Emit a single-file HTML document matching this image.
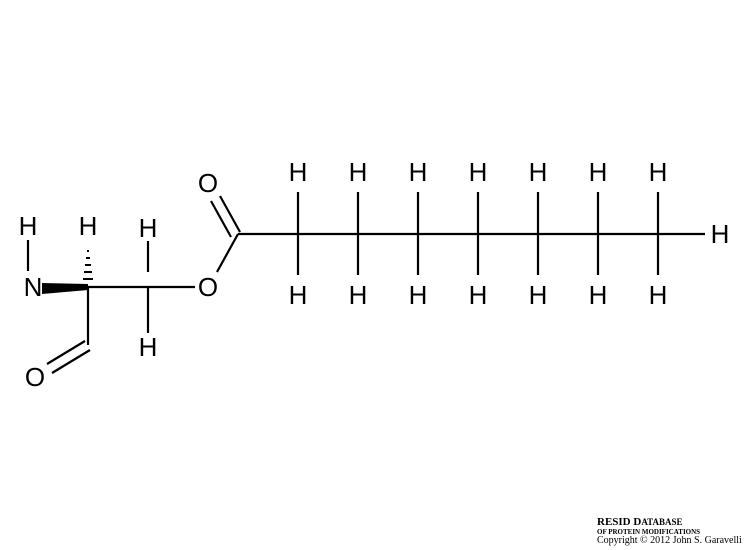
<!DOCTYPE html>
<html><head><meta charset="utf-8"><style>
html,body{margin:0;padding:0;background:#fff;}
svg{display:block;}
text{font-family:"Liberation Sans",sans-serif;font-size:26px;fill:#000;text-anchor:middle;dominant-baseline:central;}
.s{font-family:"Liberation Serif",serif;text-anchor:start;dominant-baseline:auto;}
</style></head><body>
<svg width="750" height="550" viewBox="0 0 750 550">
<g stroke="#000" stroke-width="2.2" fill="none">
<line x1="28" y1="240" x2="28" y2="271"/>
<line x1="88" y1="287" x2="195" y2="287"/>
<line x1="148" y1="241" x2="148" y2="272"/>
<line x1="148" y1="287" x2="148" y2="333"/>
<line x1="88" y1="287" x2="88" y2="345"/>
<line x1="90" y1="350" x2="52" y2="373"/>
<line x1="85" y1="341" x2="47" y2="364"/>
<line x1="217" y1="272" x2="238" y2="234"/>
<line x1="240" y1="232" x2="220" y2="196"/>
<line x1="231" y1="237" x2="211" y2="201"/>
<line x1="238" y1="234" x2="705" y2="234"/>
<line x1="298" y1="192" x2="298" y2="275"/>
<line x1="358" y1="192" x2="358" y2="275"/>
<line x1="418" y1="192" x2="418" y2="275"/>
<line x1="478" y1="192" x2="478" y2="275"/>
<line x1="538" y1="192" x2="538" y2="275"/>
<line x1="598" y1="192" x2="598" y2="275"/>
<line x1="658" y1="192" x2="658" y2="275"/>
</g>
<polygon points="42,283 88,284 88,290 42,294" fill="#000"/>
<g stroke="#000" stroke-width="2">
<line x1="87" y1="251" x2="89" y2="251"/><line x1="86" y1="258" x2="90" y2="258"/>
<line x1="85" y1="265" x2="91" y2="265"/><line x1="84" y1="272" x2="92" y2="272"/>
<line x1="83" y1="279" x2="93" y2="279"/>
</g>
<g>
<text x="28" y="226">H</text><text x="33" y="287">N</text>
<text x="88" y="226">H</text><text x="148" y="228">H</text><text x="148" y="347">H</text>
<text x="35" y="377">O</text><text x="208" y="287">O</text><text x="208" y="183">O</text>
<text x="298" y="172">H</text><text x="358" y="172">H</text><text x="418" y="172">H</text><text x="478" y="172">H</text><text x="538" y="172">H</text><text x="598" y="172">H</text><text x="658" y="172">H</text>
<text x="298" y="295">H</text><text x="358" y="295">H</text><text x="418" y="295">H</text><text x="478" y="295">H</text><text x="538" y="295">H</text><text x="598" y="295">H</text><text x="658" y="295">H</text>
<text x="720" y="234">H</text>
</g>
<g>
<text class="s" x="597" y="525" style="font-size:11px;font-weight:bold">RESID D<tspan style="font-size:9px">ATABASE</tspan></text>
<text class="s" x="597" y="534" style="font-size:7px;font-weight:bold">OF PROTEIN MODIFICATIONS</text>
<text class="s" x="597" y="543" style="font-size:10px">Copyright © 2012 John S. Garavelli</text>
</g>
</svg>
</body></html>
